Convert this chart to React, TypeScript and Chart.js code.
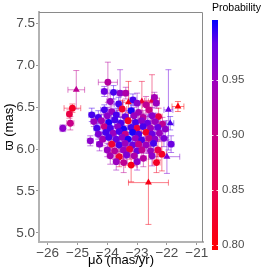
import React, { useEffect, useRef } from "react";
import { Chart, registerables } from "chart.js";
Chart.register(...registerables);

// proper motion in declination (mas/yr)
const muDelta = [
  -25.04, -23.98, -25.17, -25.27, -25.24, -25.49, -21.63, -21.95, -23.29, -22.84,
  -22.50, -23.79, -23.57, -23.38, -24.10, -23.14, -22.42, -22.62, -23.20, -22.00,
  -22.17, -21.86, -21.89, -24.52, -24.57, -24.26,
  -23.90, -23.62, -23.00, -22.70, -22.36,
  -24.10, -23.85, -23.50, -23.20, -22.95, -22.60, -22.28,
  -24.30, -24.00, -23.70, -23.40, -23.10, -22.80, -22.50,
  -24.45, -24.20, -23.95, -23.75, -23.55, -23.30, -23.05, -22.85, -22.65, -22.40, -22.15,
  -24.35, -24.10, -23.90, -23.65, -23.45, -23.20, -23.00, -22.80, -22.55, -22.30, -22.05,
  -24.30, -24.05, -23.80, -23.60, -23.40, -23.15, -22.95, -22.70, -22.50, -22.25,
  -24.15, -23.95, -23.70, -23.50, -23.30, -23.05, -22.85, -22.60, -22.40, -22.10,
  -23.85, -23.60, -23.40, -23.15, -22.95, -22.70, -22.45,
  -24.00, -23.75, -23.46, -23.25, -23.00, -22.84, -22.55, -22.30,
  -23.90, -23.60, -23.35, -23.10, -22.79, -22.50,
  -23.70, -23.45, -23.00, -22.35,
];
// parallax (mas)
const parallax = [
  6.71, 6.80, 6.49, 6.42, 6.31, 6.25, 6.51, 6.47, 6.56, 6.57,
  6.58, 6.68, 6.67, 6.67, 6.69, 6.59, 6.62, 5.60, 5.81, 5.91,
  5.94, 6.06, 6.31, 6.41, 6.10, 6.06,
  6.57, 6.54, 6.55, 6.53, 6.55,
  6.47, 6.45, 6.48, 6.46, 6.44, 6.47, 6.39,
  6.38, 6.40, 6.41, 6.39, 6.40, 6.38, 6.40,
  6.33, 6.34, 6.32, 6.35, 6.31, 6.34, 6.32, 6.34, 6.31, 6.33, 6.30,
  6.25, 6.27, 6.25, 6.27, 6.24, 6.26, 6.25, 6.27, 6.25, 6.26, 6.24,
  6.18, 6.20, 6.19, 6.21, 6.18, 6.20, 6.18, 6.20, 6.18, 6.19,
  6.12, 6.14, 6.12, 6.14, 6.12, 6.13, 6.11, 6.13, 6.12, 6.13,
  6.06, 6.05, 6.07, 6.05, 6.06, 6.05, 6.07,
  5.99, 5.98, 5.99, 6.00, 5.98, 5.99, 5.98, 5.99,
  5.92, 5.91, 5.93, 5.92, 5.89, 5.92,
  5.85, 5.84, 5.85, 5.84,
];
const muDeltaErr = [
  0.28, 0.32, 0.28, 0.08, 0.12, 0.10, 0.20, 0.15, 0.20, 0.22,
  0.25, 0.12, 0.10, 0.10, 0.10, 0.10, 0.10, 0.67, 0.20, 0.43,
  0.15, 0.10, 0.12, 0.10, 0.10, 0.10,
  0.12, 0.15, 0.10, 0.12, 0.10,
  0.12, 0.10, 0.15, 0.10, 0.12, 0.10, 0.12,
  0.10, 0.12, 0.10, 0.10, 0.12, 0.10, 0.12,
  0.10, 0.12, 0.10, 0.10, 0.12, 0.15, 0.10, 0.12, 0.10, 0.12, 0.10,
  0.10, 0.12, 0.10, 0.10, 0.12, 0.10, 0.12, 0.10, 0.12, 0.10, 0.10,
  0.10, 0.12, 0.10, 0.10, 0.12, 0.10, 0.10, 0.15, 0.10, 0.12,
  0.10, 0.12, 0.10, 0.10, 0.12, 0.10, 0.10, 0.12, 0.10, 0.12,
  0.12, 0.10, 0.10, 0.12, 0.10, 0.12, 0.10,
  0.10, 0.12, 0.10, 0.12, 0.10, 0.10, 0.12, 0.10,
  0.10, 0.12, 0.10, 0.12, 0.10, 0.10,
  0.10, 0.12, 0.10, 0.12,
];
const parallaxErr = [
  0.23, 0.24, 0.05, 0.05, 0.08, 0.04, 0.06, 0.48, 0.25, 0.24,
  0.31, 0.08, 0.28, 0.07, 0.06, 0.07, 0.06, 0.50, 0.20, 0.20,
  0.20, 0.10, 0.08, 0.08, 0.06, 0.08,
  0.10, 0.08, 0.12, 0.10, 0.06,
  0.06, 0.08, 0.10, 0.08, 0.10, 0.08, 0.10,
  0.08, 0.10, 0.08, 0.07, 0.10, 0.08, 0.10,
  0.06, 0.08, 0.08, 0.08, 0.07, 0.10, 0.08, 0.08, 0.10, 0.10, 0.08,
  0.08, 0.08, 0.07, 0.08, 0.10, 0.08, 0.10, 0.08, 0.10, 0.08, 0.10,
  0.06, 0.08, 0.08, 0.07, 0.10, 0.08, 0.08, 0.10, 0.08, 0.10,
  0.08, 0.08, 0.08, 0.10, 0.08, 0.10, 0.08, 0.10, 0.08, 0.10,
  0.10, 0.08, 0.10, 0.08, 0.10, 0.10, 0.08,
  0.08, 0.10, 0.10, 0.12, 0.10, 0.10, 0.10, 0.12,
  0.10, 0.12, 0.10, 0.12, 0.10, 0.12,
  0.10, 0.12, 0.10, 0.12,
];
// membership probability
const probability = [
  0.91, 0.92, 0.82, 0.84, 0.90, 0.96, 0.80, 0.98, 0.81, 0.83,
  0.84, 0.99, 0.96, 0.93, 0.98, 0.99, 0.94, 0.81, 0.81, 0.97,
  0.82, 0.98, 0.99, 0.99, 0.96, 0.96,
  0.95, 0.99, 0.96, 0.91, 0.95,
  0.99, 0.95, 0.83, 1.00, 0.94, 0.90, 0.84,
  0.99, 0.96, 0.99, 0.98, 0.95, 0.92, 0.96,
  0.95, 0.94, 1.00, 0.99, 0.99, 0.82, 0.99, 0.96, 0.98, 0.95, 0.91,
  0.99, 0.90, 0.99, 0.96, 1.00, 0.99, 0.84, 0.99, 0.95, 0.98, 0.96,
  0.97, 0.99, 0.95, 0.99, 0.90, 1.00, 0.99, 0.82, 0.98, 0.95,
  0.94, 0.99, 0.98, 0.96, 1.00, 0.95, 0.99, 0.91, 0.96, 0.97,
  0.83, 0.99, 0.95, 0.98, 0.90, 0.95, 0.99,
  0.95, 0.92, 0.95, 0.84, 0.98, 0.91, 0.95, 0.85,
  0.94, 0.83, 0.97, 0.93, 0.92, 0.96,
  0.95, 0.91, 0.96, 0.82,
];
// 1 = triangle marker, 0 = circle
const triangleFlag = [
  1, 0, 0, 0, 0, 0, 1, 1, 1, 1,
  1, 0, 0, 0, 0, 0, 0, 1, 0, 1,
  0, 0, 1, 0, 0, 0,
  0, 0, 0, 0, 0,
  0, 0, 0, 0, 0, 0, 0,
  0, 0, 0, 0, 0, 0, 0,
  0, 0, 0, 0, 0, 0, 0, 0, 0, 0, 0,
  0, 0, 0, 0, 0, 0, 0, 0, 0, 0, 0,
  0, 0, 0, 0, 0, 0, 0, 0, 0, 0,
  0, 0, 0, 0, 0, 0, 0, 0, 0, 0,
  0, 0, 0, 0, 0, 0, 0,
  0, 0, 0, 0, 0, 0, 0, 0,
  0, 0, 0, 0, 0, 0,
  0, 0, 0, 0,
];

const xTicks = [-26, -25, -24, -23, -22, -21];
const yTicks = [5.0, 5.5, 6.0, 6.5, 7.0, 7.5];
const cbTicks = [0.8, 0.85, 0.9, 0.95];

const X_MIN = -26.29, X_MAX = -20.79, Y_MIN = 4.89, Y_MAX = 7.64;
const CB_MIN = 0.795, CB_MAX = 1.005;

const stopT = [0, 0.25, 0.5, 0.75, 0.9, 1];
const stopRGB = [
  [255, 0, 0], [231, 0, 79], [200, 0, 136], [153, 0, 194], [102, 0, 230], [0, 0, 255],
];

function probColor(p: number, alpha = 1): string {
  let t = (p - CB_MIN) / (CB_MAX - CB_MIN);
  t = Math.max(0, Math.min(1, t));
  let k = 0;
  while (k < stopT.length - 2 && t > stopT[k + 1]) k++;
  const f = (t - stopT[k]) / (stopT[k + 1] - stopT[k]);
  const a = stopRGB[k], b = stopRGB[k + 1];
  const c = [0, 1, 2].map((j) => Math.round(a[j] + (b[j] - a[j]) * f));
  return `rgba(${c[0]},${c[1]},${c[2]},${alpha})`;
}

const FONT = "'Liberation Sans', Arial, sans-serif";
const minus = (v: number) => String(v).replace("-", "\u2212");

const errorBarPlugin = {
  id: "errorBars",
  beforeDatasetsDraw(chart: any) {
    const { ctx } = chart;
    const x = chart.scales.x, y = chart.scales.y;
    const cap = 3;
    ctx.save();
    ctx.lineWidth = 1;
    for (let i = 0; i < muDelta.length; i++) {
      const px = x.getPixelForValue(muDelta[i]);
      const py = y.getPixelForValue(parallax[i]);
      const x0 = x.getPixelForValue(muDelta[i] - muDeltaErr[i]);
      const x1 = x.getPixelForValue(muDelta[i] + muDeltaErr[i]);
      const y0 = y.getPixelForValue(parallax[i] - parallaxErr[i]);
      const y1 = y.getPixelForValue(parallax[i] + parallaxErr[i]);
      ctx.strokeStyle = probColor(probability[i], 0.5);
      ctx.beginPath();
      ctx.moveTo(x0, py); ctx.lineTo(x1, py);
      ctx.moveTo(x0, py - cap); ctx.lineTo(x0, py + cap);
      ctx.moveTo(x1, py - cap); ctx.lineTo(x1, py + cap);
      ctx.moveTo(px, y0); ctx.lineTo(px, y1);
      ctx.moveTo(px - cap, y0); ctx.lineTo(px + cap, y0);
      ctx.moveTo(px - cap, y1); ctx.lineTo(px + cap, y1);
      ctx.stroke();
    }
    ctx.restore();
  },
  afterDraw(chart: any) {
    const { ctx, chartArea: a } = chart;
    ctx.save();
    ctx.strokeStyle = "#8a8a8a";
    ctx.lineWidth = 1;
    ctx.beginPath();
    ctx.moveTo(a.left, a.top + 0.5);
    ctx.lineTo(a.right - 0.5, a.top + 0.5);
    ctx.lineTo(a.right - 0.5, a.bottom);
    ctx.stroke();
    ctx.restore();
  },
};

const cbTickPlugin = {
  id: "cbTicks",
  afterDatasetsDraw(chart: any) {
    const { ctx, chartArea: a } = chart;
    const y = chart.scales.y;
    ctx.save();
    ctx.strokeStyle = "rgba(255,255,255,0.9)";
    ctx.lineWidth = 1;
    for (const v of cbTicks) {
      const py = Math.round(y.getPixelForValue(v)) + 0.5;
      ctx.beginPath();
      ctx.moveTo(a.left, py); ctx.lineTo(a.left + 1.5, py);
      ctx.moveTo(a.right - 1.5, py); ctx.lineTo(a.right, py);
      ctx.stroke();
    }
    ctx.restore();
  },
};

export default function App() {
  const mainRef = useRef<HTMLCanvasElement>(null);
  const cbRef = useRef<HTMLCanvasElement>(null);

  useEffect(() => {
    const points = muDelta.map((v, i) => ({ x: v, y: parallax[i] }));
    const main = new Chart(mainRef.current as HTMLCanvasElement, {
      type: "scatter",
      data: {
        datasets: [
          {
            data: points,
            backgroundColor: probability.map((p) => probColor(p)),
            borderWidth: 0,
            pointStyle: triangleFlag.map((t) => (t ? "triangle" : "circle")) as any,
            pointRadius: triangleFlag.map((t) => (t ? 4 : 3.4)),
          },
        ],
      },
      options: {
        animation: false,
        responsive: false,
        events: [],
        layout: { padding: { top: 12, right: 71, left: 0, bottom: 0 } },
        plugins: { legend: { display: false }, tooltip: { enabled: false } },
        scales: {
          x: {
            type: "linear",
            min: X_MIN,
            max: X_MAX,
            afterBuildTicks: (s: any) => { s.ticks = xTicks.map((v) => ({ value: v })); },
            afterFit: (s: any) => { s.height = 32; },
            ticks: {
              callback: (v: any) => minus(Number(v)),
              font: { family: FONT, size: 13.5 },
              color: "#4d4d4d",
              padding: 0,
              maxRotation: 0,
            },
            grid: { drawOnChartArea: false, tickLength: 3, color: "#9a9a9a" },
            border: { display: true, color: "#b3b3b3", width: 2 },
            title: {
              display: true,
              text: "μδ (mas/yr)",
              font: { family: FONT, size: 13 },
              color: "#000",
              padding: { top: 0, bottom: 5.5 },
            },
          },
          y: {
            type: "linear",
            min: Y_MIN,
            max: Y_MAX,
            afterBuildTicks: (s: any) => { s.ticks = yTicks.map((v) => ({ value: v })); },
            afterFit: (s: any) => { s.width = 39; },
            ticks: {
              callback: (v: any) => Number(v).toFixed(1),
              font: { family: FONT, size: 13.5 },
              color: "#4d4d4d",
              padding: 1,
            },
            grid: { drawOnChartArea: false, tickLength: 3, color: "#9a9a9a" },
            border: { display: true, color: "#b3b3b3", width: 2 },
            title: {
              display: true,
              text: "ϖ (mas)",
              font: { family: FONT, size: 13 },
              color: "#000",
              padding: { top: 2, bottom: 0 },
            },
          },
        },
      },
      plugins: [errorBarPlugin],
    } as any);

    const cb = new Chart(cbRef.current as HTMLCanvasElement, {
      type: "bar",
      data: {
        labels: [""],
        datasets: [
          {
            data: [[CB_MIN, CB_MAX]] as any,
            barPercentage: 1,
            categoryPercentage: 1,
            borderWidth: 0,
            backgroundColor: (c: any) => {
              const ch = c.chart;
              const a = ch.chartArea;
              if (!a) return probColor(0.9);
              const y = ch.scales.y;
              const g = ch.ctx.createLinearGradient(0, y.getPixelForValue(CB_MIN), 0, y.getPixelForValue(CB_MAX));
              for (let i = 0; i <= 40; i++) {
                const t = i / 40;
                g.addColorStop(t, probColor(CB_MIN + t * (CB_MAX - CB_MIN)));
              }
              return g;
            },
          },
        ],
      },
      options: {
        animation: false,
        responsive: false,
        events: [],
        layout: { padding: { top: 0, left: 0, right: 0, bottom: 24 } },
        plugins: {
          legend: { display: false },
          tooltip: { enabled: false },
          title: {
            display: true,
            text: "Probability",
            align: "start",
            font: { family: FONT, size: 10.5, weight: "normal" },
            color: "#000",
            padding: { top: 2, bottom: 5.4 },
          },
        },
        scales: {
          x: { display: false },
          y: {
            position: "right",
            min: CB_MIN,
            max: CB_MAX,
            afterBuildTicks: (s: any) => { s.ticks = cbTicks.map((v) => ({ value: v })); },
            afterFit: (s: any) => { s.width = 56; },
            ticks: {
              callback: (v: any) => Number(v).toFixed(2),
              font: { family: FONT, size: 11.5 },
              color: "#4d4d4d",
              padding: 4,
            },
            grid: { display: false, drawTicks: false, tickLength: 0 },
            border: { display: false },
          },
        },
      },
      plugins: [cbTickPlugin],
    } as any);

    return () => {
      main.destroy();
      cb.destroy();
    };
  }, []);

  return (
    <div style={{ position: "fixed", left: 0, top: 0, width: 274, height: 274, background: "#fff" }}>
      <canvas
        ref={mainRef}
        width={274}
        height={274}
        style={{ position: "absolute", left: 0, top: 0, width: 274, height: 274 }}
      />
      <canvas
        ref={cbRef}
        width={62}
        height={274}
        style={{ position: "absolute", left: 212, top: 0, width: 62, height: 274 }}
      />
    </div>
  );
}
